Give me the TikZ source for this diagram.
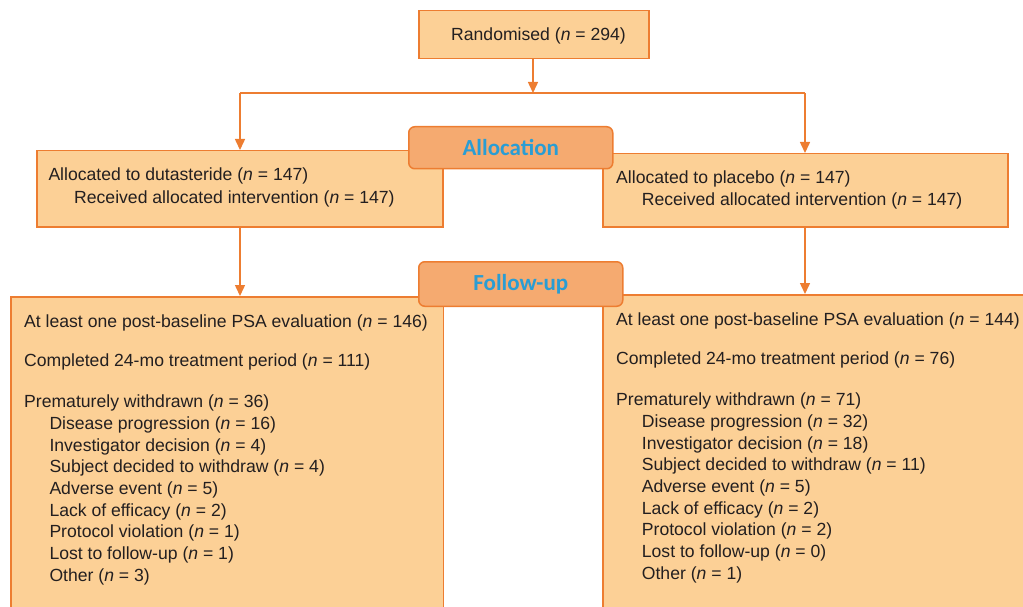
\documentclass[tikz,border=0pt]{standalone}
\usepackage{fontspec}
\setmainfont{Liberation Sans}
\newfontfamily\tabfont{Carlito}
\usetikzlibrary{arrows.meta}
\definecolor{lineor}{RGB}{237,125,49}
\definecolor{boxfill}{RGB}{252,208,150}
\definecolor{tabfill}{RGB}{245,170,112}
\definecolor{tabtext}{RGB}{41,157,212}
\definecolor{txtcol}{RGB}{35,31,32}
\tikzset{
  box/.style={draw=lineor, fill=boxfill, line width=1.5pt, rectangle, anchor=north west, inner sep=0pt},
  tabbox/.style={draw=lineor, fill=tabfill, line width=1.5pt, rectangle, rounded corners=6pt, anchor=north west, inner sep=0pt,
     font=\tabfont\bfseries\fontsize{23}{27}\selectfont, text=tabtext},
  txt/.style={anchor=base west, inner sep=0pt, text=txtcol, font=\fontsize{17.6}{21.7}\selectfont},
  conn/.style={draw=lineor, line width=1.5pt},
  arr/.style={conn, -{Triangle[width=10pt,length=11pt]}}
}
\begin{document}
\begin{tikzpicture}[x=1pt,y=-1pt]
\useasboundingbox (0,0) rectangle (1023,607);
\begin{scope}
\clip (0,0) rectangle (1023,607);
% boxes
\node[box, minimum width=230pt, minimum height=48pt] (rand) at (418,10) {};
\node[box, minimum width=406pt, minimum height=76pt] (allocL) at (36,150) {};
\node[box, minimum width=405pt, minimum height=73pt] (allocR) at (602,153) {};
\node[box, minimum width=432.5pt, minimum height=340pt] (fuL) at (10,296) {};
\node[box, minimum width=440pt, minimum height=340pt] (fuR) at (602,294) {};
% connectors
\coordinate (jc) at (533,93);
\coordinate (jl) at (240,93);
\coordinate (jr) at (805,93);
\draw[arr] (rand.south -| jc) -- (jc);
\draw[conn] (jl) -- (jr);
\draw[arr] (jl) -- (jl |- allocL.north);
\draw[arr] (jr) -- (jr |- allocR.north);
\draw[arr] (jl |- allocL.south) -- (jl |- fuL.north);
\draw[arr] (jr |- allocR.south) -- (jr |- fuR.north);
% tabs
\node[tabbox, minimum width=204pt, minimum height=42pt] (tabA) at (408,126) {};
\node[text=tabtext, font=\tabfont\bfseries\fontsize{23}{27}\selectfont, inner sep=0pt] (tabAt) at (tabA.center) {Allocation};
\node[tabbox, minimum width=204pt, minimum height=44.5pt] (tabF) at (418,261) {};
\node[text=tabtext, font=\tabfont\bfseries\fontsize{23}{27}\selectfont, inner sep=0pt] (tabFt) at (tabF.center) {Follow-up};
% texts
\node[txt] (t0) at (451,40.7) {Randomised (\textit{n} = 294)};
\node[txt] (aL1) at (48.3,180.7) {Allocated to dutasteride (\textit{n} = 147)};
\node[txt] (aL2) at (74,203.3) {Received allocated intervention (\textit{n} = 147)};
\node[txt] (aR1) at (616,183.3) {Allocated to placebo (\textit{n} = 147)};
\node[txt] (aR2) at (641.7,205.7) {Received allocated intervention (\textit{n} = 147)};
% left follow-up
\node[txt] (fL1) at (24,327.3) {At least one post-baseline PSA evaluation (\textit{n} = 146)};
\node[txt] (fL2) at (24,366.7) {Completed 24-mo treatment period (\textit{n} = 111)};
\node[txt] (fL3) at (24,407.3) {Prematurely withdrawn (\textit{n} = 36)};
\node[txt] (fL4) at (49.3,429.3) {Disease progression (\textit{n} = 16)};
\node[txt] (fL5) at (49.3,451) {Investigator decision (\textit{n} = 4)};
\node[txt] (fL6) at (49.3,472.7) {Subject decided to withdraw (\textit{n} = 4)};
\node[txt] (fL7) at (49.3,494.4) {Adverse event (\textit{n} = 5)};
\node[txt] (fL8) at (49.3,516) {Lack of efficacy (\textit{n} = 2)};
\node[txt] (fL9) at (49.3,537.7) {Protocol violation (\textit{n} = 1)};
\node[txt] (fL10) at (49.3,559.4) {Lost to follow-up (\textit{n} = 1)};
\node[txt] (fL11) at (49.3,581) {Other (\textit{n} = 3)};
% right follow-up
\node[txt] (fR1) at (616,325.3) {At least one post-baseline PSA evaluation (\textit{n} = 144)};
\node[txt] (fR2) at (616,364.7) {Completed 24-mo treatment period (\textit{n} = 76)};
\node[txt] (fR3) at (616,405.3) {Prematurely withdrawn (\textit{n} = 71)};
\node[txt] (fR4) at (641.7,427.3) {Disease progression (\textit{n} = 32)};
\node[txt] (fR5) at (641.7,449) {Investigator decision (\textit{n} = 18)};
\node[txt] (fR6) at (641.7,470.7) {Subject decided to withdraw (\textit{n} = 11)};
\node[txt] (fR7) at (641.7,492.4) {Adverse event (\textit{n} = 5)};
\node[txt] (fR8) at (641.7,514) {Lack of efficacy (\textit{n} = 2)};
\node[txt] (fR9) at (641.7,535.7) {Protocol violation (\textit{n} = 2)};
\node[txt] (fR10) at (641.7,557.4) {Lost to follow-up (\textit{n} = 0)};
\node[txt] (fR11) at (641.7,579) {Other (\textit{n} = 1)};
\end{scope}
\end{tikzpicture}
\end{document}
